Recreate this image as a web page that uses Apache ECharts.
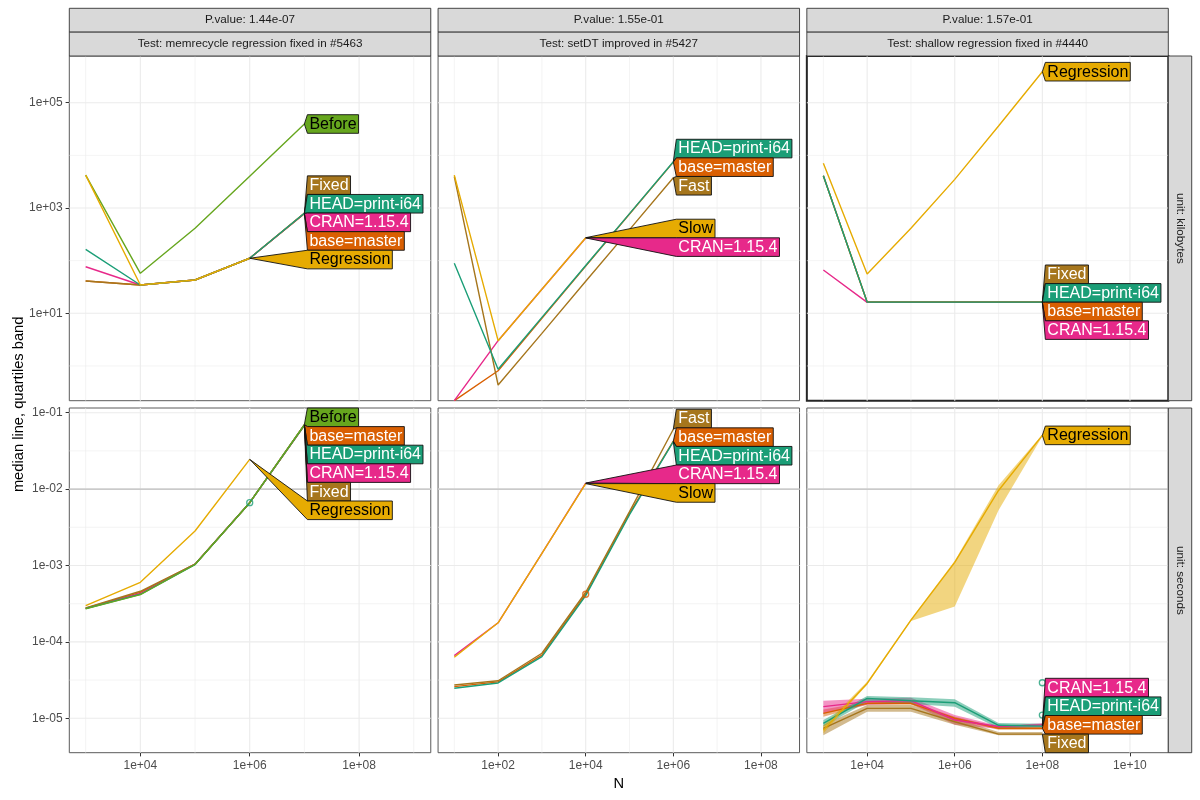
<!DOCTYPE html>
<html><head><meta charset="utf-8">
<script src="https://cdn.jsdelivr.net/npm/echarts@6/dist/echarts.min.js"></script>
<style>html,body{margin:0;padding:0;background:#fff}#c{width:1200px;height:800px}</style>
</head><body><div id="c"></div><script>
// ---------------- data ----------------
const pValues = ['P.value: 1.44e-07', 'P.value: 1.55e-01', 'P.value: 1.57e-01'];
const testTitles = ['Test: memrecycle regression fixed in #5463', 'Test: setDT improved in #5427', 'Test: shallow regression fixed in #4440'];
const units = ['unit: kilobytes', 'unit: seconds'];
const xTitle = 'N';
const yTitle = 'median line, quartiles band';

const N_memrecycle = [1e3, 1e4, 1e5, 1e6, 1e7];
const N_setDT = [1e1, 1e2, 1e3, 1e4, 1e5, 1e6];
const N_shallow = [1e3, 1e4, 1e5, 1e6, 1e7, 1e8];

// medians (0 = -Inf on the log scale, drawn at the panel edge)
const memrecycle_kilobytes = {
  'base=master':    [41, 34.5, 42.9, 111, 783],
  'CRAN=1.15.4':    [76.7, 34.5, 42.9, 111, 786],
  'Fixed':          [41, 34.5, 42.9, 111, 798],
  'HEAD=print-i64': [164, 34.5, 42.9, 111, 794],
  'Before':         [4200, 57.5, 411, 4018, 39400],
  'Regression':     [4200, 34.5, 42.9, 111, null]
};
const setDT_kilobytes = {
  'base=master':    [0, 0.81, 8.0, 79, 770, 7450],
  'CRAN=1.15.4':    [0, 3.02, 28.7, 270, null, null],
  'Fast':           [3930, 0.435, 4.15, 40.6, 389, 3760],
  'HEAD=print-i64': [89, 0.863, 8.36, 80.9, 782, 7570],
  'Slow':           [4200, 3.02, 28.7, 273, null, null]
};
const shallow_kilobytes = {
  'base=master':    [4100, 16.2, 16.2, 16.2, 16.2, 16.2],
  'CRAN=1.15.4':    [66.4, 16.1, 16.1, 16.1, 16.1, 16.1],
  'Fixed':          [4100, 16.4, 16.4, 16.4, 16.4, 16.4],
  'HEAD=print-i64': [4100, 16.3, 16.3, 16.3, 16.3, 16.3],
  'Regression':     [7060, 55.7, 411, 3500, 36000, 388000]
};
const memrecycle_seconds = {
  'base=master':    [2.76e-4, 4.45e-4, 1.04e-3, 6.64e-3, 0.0695],
  'CRAN=1.15.4':    [2.74e-4, 4.3e-4, 1.04e-3, 6.64e-3, 0.0685],
  'Fixed':          [2.78e-4, 4.6e-4, 1.04e-3, 6.64e-3, 0.0680],
  'HEAD=print-i64': [2.72e-4, 4.2e-4, 1.03e-3, 6.64e-3, 0.0690],
  'Before':         [2.70e-4, 4.15e-4, 1.03e-3, 6.64e-3, 0.0700],
  'Regression':     [2.98e-4, 6.03e-4, 2.83e-3, 2.45e-2, null]
};
const setDT_seconds = {
  'base=master':    [2.6e-5, 3.0e-5, 6.7e-5, 4.2e-4, 4.8e-3, 0.0425],
  'CRAN=1.15.4':    [6.6e-5, 1.78e-4, 1.44e-3, 0.0120, null, null],
  'Fast':           [2.73e-5, 3.1e-5, 7.1e-5, 4.46e-4, 5.06e-3, 0.0607],
  'HEAD=print-i64': [2.47e-5, 2.9e-5, 6.4e-5, 4.03e-4, 4.62e-3, 0.0417],
  'Slow':           [6.3e-5, 1.78e-4, 1.44e-3, 0.0118, null, null]
};
const shallow_seconds = {
  'base=master':    [1.16e-5, 1.57e-5, 1.57e-5, 1.0e-5, 7.4e-6, 7.4e-6],
  'CRAN=1.15.4':    [1.42e-5, 1.65e-5, 1.7e-5, 9.5e-6, 7.8e-6, 8.2e-6],
  'Fixed':          [7.4e-6, 1.35e-5, 1.35e-5, 9.0e-6, 6.2e-6, 6.2e-6],
  'HEAD=print-i64': [8.6e-6, 1.82e-5, 1.70e-5, 1.60e-5, 8.1e-6, 7.9e-6],
  'Regression':     [7.0e-6, 2.86e-5, 1.93e-4, 1.1e-3, 9.6e-3, 0.0505]
};
const shallow_seconds_q25 = {
  'base=master':    [1.05e-5, 1.5e-5, 1.5e-5, 9.5e-6, 7.1e-6, 7.1e-6],
  'CRAN=1.15.4':    [1.16e-5, 1.5e-5, 1.55e-5, 8.2e-6, 7.3e-6, 7.8e-6],
  'Fixed':          [6.0e-6, 1.22e-5, 1.22e-5, 8.2e-6, 6.0e-6, 6.0e-6],
  'HEAD=print-i64': [7.8e-6, 1.65e-5, 1.54e-5, 1.42e-5, 7.4e-6, 7.6e-6],
  'Regression':     [6.3e-6, 2.75e-5, 1.88e-4, 2.9e-4, 5.3e-3, 0.049]
};
const shallow_seconds_q75 = {
  'base=master':    [1.3e-5, 1.65e-5, 1.65e-5, 1.05e-5, 7.7e-6, 7.7e-6],
  'CRAN=1.15.4':    [1.7e-5, 1.8e-5, 1.85e-5, 1.1e-5, 8.0e-6, 8.6e-6],
  'Fixed':          [8.2e-6, 1.49e-5, 1.49e-5, 1.0e-5, 6.6e-6, 6.6e-6],
  'HEAD=print-i64': [9.5e-6, 1.96e-5, 1.88e-5, 1.77e-5, 8.7e-6, 8.5e-6],
  'Regression':     [8.0e-6, 3.0e-5, 2.0e-4, 1.15e-3, 1.12e-2, 0.052]
};
const memrecycle_seconds_points = [['HEAD=print-i64', 1e6, 6.64e-3]];
const setDT_seconds_points = [['base=master', 1e4, 4.2e-4]];
const shallow_seconds_points = [['HEAD=print-i64', 1e8, 2.92e-5], ['HEAD=print-i64', 1e8, 1.1e-5]];
const thresholdSeconds = 0.01;

const colors = {
  'HEAD=print-i64': '#1B9E77', 'base=master': '#D95F02', 'CRAN=1.15.4': '#E7298A',
  'Before': '#66A61E', 'Regression': '#E6AB02', 'Slow': '#E6AB02', 'Fixed': '#A6761D', 'Fast': '#A6761D'
};
const darkText = ['Before', 'Regression', 'Slow'];

// axis scales (log10 units)
const xRanges = [[2.7006, 9.311], [0.6295, 8.881], [2.623, 10.876]];
const yRanges = [[-0.66, 5.887], [-5.4505, -0.9385]];
const xMajor = [[4, 6, 8], [2, 4, 6, 8], [4, 6, 8, 10]];
const xMinor = [[3, 5, 7, 9], [1, 3, 5, 7], [3, 5, 7, 9]];
const yMajor = [[1, 3, 5], [-5, -4, -3, -2, -1]];
const yMinor = [[0, 2, 4], [-4.5, -3.5, -2.5, -1.5]];

// ---------------- layout ----------------
const FONT = '"Liberation Sans", Arial, Helvetica, sans-serif';
const colLeft = [69.3, 438.07, 806.84], colW = 361.47;
const rowTop = [56, 408], rowH = 344.7;
const stripTop = 8.3, stripH = 23.85, rStripW = 23.4;

const panels = [
  {row: 0, col: 0, N: N_memrecycle, med: memrecycle_kilobytes},
  {row: 0, col: 1, N: N_setDT, med: setDT_kilobytes},
  {row: 0, col: 2, N: N_shallow, med: shallow_kilobytes},
  {row: 1, col: 0, N: N_memrecycle, med: memrecycle_seconds, points: memrecycle_seconds_points},
  {row: 1, col: 1, N: N_setDT, med: setDT_seconds, points: setDT_seconds_points},
  {row: 1, col: 2, N: N_shallow, med: shallow_seconds, q25: shallow_seconds_q25, q75: shallow_seconds_q75, points: shallow_seconds_points}
];

function sci(v) {
  const a = Math.round(Math.abs(v));
  return '1e' + (v < 0 ? '-' : '+') + (a < 10 ? '0' : '') + a;
}
const measureCtx = document.createElement('canvas').getContext('2d');
measureCtx.font = '16px ' + FONT;

const grids = [], xAxes = [], yAxes = [], series = [];
panels.forEach((p, gi) => {
  const {row, col} = p;
  const toY = v => (v === 0 ? yRanges[row][0] : Math.log10(v));
  const special = row === 0 && col === 2;
  grids.push({left: colLeft[col], top: rowTop[row], width: colW, height: rowH, show: true,
    backgroundColor: '#fff', borderColor: special ? '#262626' : '#5a5a5a', borderWidth: special ? 2 : 1,
    containLabel: false, outerBoundsMode: 'none'});
  xAxes.push({type: 'value', gridIndex: gi, min: xRanges[col][0], max: xRanges[col][1],
    axisLine: {show: false}, splitLine: {show: false},
    axisTick: {show: row === 1, length: 3.7, customValues: xMajor[col], lineStyle: {color: '#333', width: 1}},
    axisLabel: {show: row === 1, customValues: xMajor[col], formatter: sci, margin: 6.6, color: '#4D4D4D', fontSize: 12, fontFamily: FONT}});
  yAxes.push({type: 'value', gridIndex: gi, min: yRanges[row][0], max: yRanges[row][1],
    axisLine: {show: false}, splitLine: {show: false},
    axisTick: {show: col === 0, length: 3.7, customValues: yMajor[row], lineStyle: {color: '#333', width: 1}},
    axisLabel: {show: col === 0, customValues: yMajor[row], formatter: sci, margin: 6.6, color: '#4D4D4D', fontSize: 12, fontFamily: FONT}});

  const anchor = [[xRanges[col][0], yRanges[row][0]]];
  // grid lines (+ threshold line in seconds row)
  series.push({type: 'custom', xAxisIndex: gi, yAxisIndex: gi, z: 1, silent: true, animation: false, data: anchor,
    renderItem: (params, api) => {
      const cs = params.coordSys; const ch = [];
      const vline = (v, w, c) => { const x = api.coord([v, yRanges[row][0]])[0]; ch.push({type: 'line', shape: {x1: x, y1: cs.y, x2: x, y2: cs.y + cs.height}, style: {stroke: c, lineWidth: w}}); };
      const hline = (v, w, c) => { const y = api.coord([xRanges[col][0], v])[1]; ch.push({type: 'line', shape: {x1: cs.x, y1: y, x2: cs.x + cs.width, y2: y}, style: {stroke: c, lineWidth: w}}); };
      xMinor[col].forEach(v => vline(v, 0.6, '#EDEDED'));
      yMinor[row].forEach(v => hline(v, 0.6, '#EDEDED'));
      xMajor[col].forEach(v => vline(v, 1.1, '#EBEBEB'));
      yMajor[row].forEach(v => hline(v, 1.1, '#EBEBEB'));
      if (row === 1) hline(Math.log10(thresholdSeconds), 1.4, '#BEBEBE');
      return {type: 'group', children: ch};
    }});

  const names = Object.keys(p.med);
  // quartile bands
  if (p.q25) names.forEach(name => {
    const lo = p.q25[name], hi = p.q75[name];
    if (!lo) return;
    series.push({type: 'custom', xAxisIndex: gi, yAxisIndex: gi, z: 2, silent: true, animation: false, data: anchor,
      renderItem: (params, api) => {
        const top = [], bot = [];
        p.N.forEach((n, i) => {
          if (hi[i] == null) return;
          top.push(api.coord([Math.log10(n), Math.log10(hi[i])]));
          bot.push(api.coord([Math.log10(n), Math.log10(lo[i])]));
        });
        return {type: 'polygon', shape: {points: top.concat(bot.reverse())}, style: {fill: colors[name], opacity: 0.5}};
      }});
  });
  // median lines
  names.forEach(name => {
    const data = [];
    p.med[name].forEach((v, i) => { if (v != null) data.push([Math.log10(p.N[i]), toY(v)]); });
    series.push({type: 'line', name, xAxisIndex: gi, yAxisIndex: gi, data, showSymbol: false, symbol: 'none',
      lineStyle: {color: colors[name], width: 1.4}, itemStyle: {color: colors[name]}, z: 3, silent: true, animation: false});
  });
  // points
  if (p.points) p.points.forEach(([name, n, v]) => {
    series.push({type: 'scatter', xAxisIndex: gi, yAxisIndex: gi, z: 4, silent: true, animation: false,
      data: [[Math.log10(n), Math.log10(v)]], symbol: 'circle', symbolSize: 6,
      itemStyle: {color: 'rgba(0,0,0,0)', borderColor: colors[name], borderWidth: 1.3}});
  });
  // direct labels (polygon boxes, positions solved like directlabels' qp)
  series.push({type: 'custom', xAxisIndex: gi, yAxisIndex: gi, z: 6, silent: true, animation: false, clip: false, data: anchor,
    renderItem: (params, api) => {
      const cs = params.coordSys;
      const items = []; let xmax = -Infinity;
      names.forEach(name => {
        const vals = p.med[name]; let last = -1;
        vals.forEach((v, i) => { if (v != null) last = i; });
        const pt = api.coord([Math.log10(p.N[last]), toY(vals[last])]);
        items.push({name, px: pt[0], py: pt[1]});
        xmax = Math.max(xmax, pt[0]);
      });
      items.sort((a, b) => a.py - b.py);
      const H = 18.6, n = items.length;
      const blocks = [];
      items.forEach((it, i) => {
        blocks.push({sum: it.py - i * H, cnt: 1});
        while (blocks.length > 1) {
          const b2 = blocks[blocks.length - 1], b1 = blocks[blocks.length - 2];
          if (b1.sum / b1.cnt > b2.sum / b2.cnt) { blocks.pop(); b1.sum += b2.sum; b1.cnt += b2.cnt; } else break;
        }
      });
      const ys = []; let k = 0;
      blocks.forEach(b => { for (let j = 0; j < b.cnt; j++) { ys.push(b.sum / b.cnt + k * H); k++; } });
      const lo = cs.y + H / 2, hi = cs.y + cs.height - H / 2;
      ys[0] = Math.max(ys[0], lo);
      for (let i = 1; i < n; i++) ys[i] = Math.max(ys[i], ys[i - 1] + H);
      ys[n - 1] = Math.min(ys[n - 1], hi);
      for (let i = n - 2; i >= 0; i--) ys[i] = Math.min(ys[i], ys[i + 1] - H);
      const ch = [];
      items.forEach((it, i) => {
        const yc = ys[i];
        const bl = xmax + 3, tx = bl + 2;
        const w = measureCtx.measureText(it.name).width;
        const br = tx + w + 2, top = yc - H / 2, bot = yc + H / 2;
        ch.push({type: 'polygon', shape: {points: [[it.px, it.py], [bl, top], [br, top], [br, bot], [bl, bot]]},
          style: {fill: colors[it.name], stroke: '#111', lineWidth: 0.9}});
        ch.push({type: 'text', style: {text: it.name, x: tx, y: yc + 0.5, fill: darkText.includes(it.name) ? '#000' : '#fff',
          font: '16px ' + FONT, align: 'left', verticalAlign: 'middle'}});
      });
      return {type: 'group', children: ch};
    }});
});

// strips and titles
const graphic = [];
[0, 1, 2].forEach(c => {
  [[pValues[c], stripTop], [testTitles[c], stripTop + stripH]].forEach(([t, y]) => {
    graphic.push({type: 'rect', shape: {x: colLeft[c], y, width: colW, height: stripH}, style: {fill: '#D9D9D9', stroke: '#333', lineWidth: 0.9}, z: 10});
    graphic.push({type: 'text', x: colLeft[c] + colW / 2, y: y + stripH / 2, style: {text: t, align: 'center', verticalAlign: 'middle', fill: '#1A1A1A', font: '11.7px ' + FONT}, z: 11});
  });
});
[0, 1].forEach(r => {
  const x = colLeft[2] + colW;
  graphic.push({type: 'rect', shape: {x, y: rowTop[r], width: rStripW, height: rowH}, style: {fill: '#D9D9D9', stroke: '#333', lineWidth: 0.9}, z: 10});
  graphic.push({type: 'text', x: x + rStripW / 2, y: rowTop[r] + rowH / 2, rotation: -Math.PI / 2, style: {text: units[r], align: 'center', verticalAlign: 'middle', fill: '#1A1A1A', font: '11.7px ' + FONT}, z: 11});
});
graphic.push({type: 'text', x: colLeft[0] + (colLeft[2] + colW - colLeft[0]) / 2, y: 784, style: {text: xTitle, align: 'center', verticalAlign: 'middle', fill: '#000', font: '14.7px ' + FONT}});
graphic.push({type: 'text', x: 18.5, y: rowTop[0] + (rowTop[1] + rowH - rowTop[0]) / 2, rotation: Math.PI / 2, style: {text: yTitle, align: 'center', verticalAlign: 'middle', fill: '#000', font: '14.7px ' + FONT}});

const chart = echarts.init(document.getElementById('c'), null, {renderer: 'canvas', width: 1200, height: 800});
chart.setOption({animation: false, backgroundColor: '#fff', grid: grids, xAxis: xAxes, yAxis: yAxes, series, graphic});
</script></body></html>
